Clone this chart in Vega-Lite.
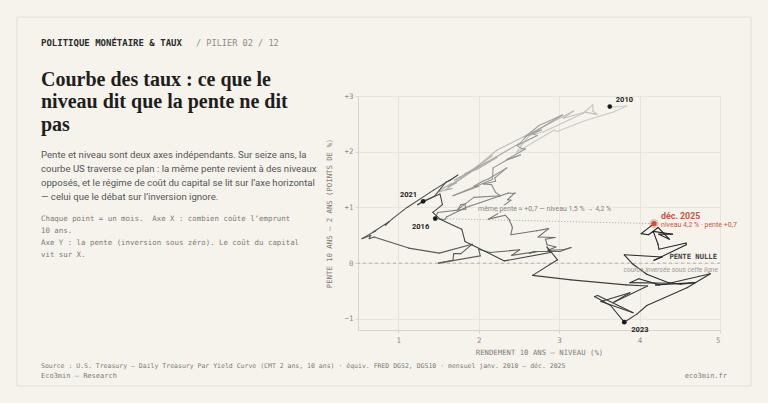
{
  "$schema": "https://vega.github.io/schema/vega-lite/v6.json",
  "width": 362,
  "height": 234,
  "autosize": {"type": "none"},
  "padding": {"left": 358, "top": 96, "right": 48, "bottom": 73},
  "background": "#f6f3ed",
  "config": {
    "view": {"stroke": null},
    "axis": {
      "labelFont": "DejaVu Sans Mono", "labelFontSize": 7.5, "labelColor": "#8f8b84",
      "titleFont": "DejaVu Sans Mono", "titleFontSize": 7.3, "titleFontWeight": "normal", "titleColor": "#7d7a73",
      "gridColor": "#e9e4db", "gridWidth": 1, "domainColor": "#d9d4ca", "tickColor": "#d9d4ca", "tickSize": 3
    }
  },
  "title": {
    "text": ["Courbe des taux : ce que le", "niveau dit que la pente ne dit", "pas"],
    "subtitle": [
      "Pente et niveau sont deux axes indépendants. Sur seize ans, la",
      "courbe US traverse ce plan : la même pente revient à des niveaux",
      "opposés, et le régime de coût du capital se lit sur l’axe horizontal",
      "— celui que le débat sur l’inversion ignore."
    ],
    "anchor": "start", "frame": "group", "orient": "top",
    "dx": -317, "dy": 189,
    "font": "Liberation Serif", "fontSize": 20, "fontWeight": "bold", "color": "#1e1e1e", "lineHeight": 22.5,
    "subtitleFont": "Roboto", "subtitleFontSize": 9.6, "subtitleColor": "#555555", "subtitleLineHeight": 14, "subtitlePadding": 15
  },
  "datasets": {
    "curve": [
      {"m":"2010-01","x":3.63,"y":2.81},{"m":"2010-02","x":3.61,"y":2.80},{"m":"2010-03","x":3.84,"y":2.82},{"m":"2010-04","x":3.69,"y":2.72},
      {"m":"2010-05","x":3.31,"y":2.55},{"m":"2010-06","x":2.97,"y":2.36},{"m":"2010-07","x":2.94,"y":2.39},{"m":"2010-08","x":2.47,"y":1.99},
      {"m":"2010-09","x":2.53,"y":2.11},{"m":"2010-10","x":2.63,"y":2.29},{"m":"2010-11","x":2.81,"y":2.36},{"m":"2010-12","x":3.30,"y":2.69},
      {"m":"2011-01","x":3.42,"y":2.84},{"m":"2011-02","x":3.42,"y":2.73},{"m":"2011-03","x":3.47,"y":2.67},{"m":"2011-04","x":3.32,"y":2.71},
      {"m":"2011-05","x":3.05,"y":2.60},{"m":"2011-06","x":3.18,"y":2.73},{"m":"2011-07","x":2.82,"y":2.46},{"m":"2011-08","x":2.23,"y":2.03},
      {"m":"2011-09","x":1.92,"y":1.67},{"m":"2011-10","x":2.17,"y":1.93},{"m":"2011-11","x":2.08,"y":1.83},{"m":"2011-12","x":1.89,"y":1.65},
      {"m":"2012-01","x":1.83,"y":1.61},{"m":"2012-02","x":1.98,"y":1.68},{"m":"2012-03","x":2.23,"y":1.90},{"m":"2012-04","x":1.95,"y":1.68},
      {"m":"2012-05","x":1.59,"y":1.32},{"m":"2012-06","x":1.67,"y":1.34},{"m":"2012-07","x":1.51,"y":1.28},{"m":"2012-08","x":1.57,"y":1.35},
      {"m":"2012-09","x":1.65,"y":1.42},{"m":"2012-10","x":1.72,"y":1.44},{"m":"2012-11","x":1.62,"y":1.37},{"m":"2012-12","x":1.78,"y":1.53},
      {"m":"2013-01","x":2.02,"y":1.75},{"m":"2013-02","x":1.89,"y":1.64},{"m":"2013-03","x":1.87,"y":1.62},{"m":"2013-04","x":1.70,"y":1.49},
      {"m":"2013-05","x":2.16,"y":1.86},{"m":"2013-06","x":2.52,"y":2.16},{"m":"2013-07","x":2.60,"y":2.29},{"m":"2013-08","x":2.78,"y":2.39},
      {"m":"2013-09","x":2.64,"y":2.31},{"m":"2013-10","x":2.57,"y":2.26},{"m":"2013-11","x":2.75,"y":2.47},{"m":"2013-12","x":3.04,"y":2.66},
      {"m":"2014-01","x":2.67,"y":2.33},{"m":"2014-02","x":2.66,"y":2.33},{"m":"2014-03","x":2.73,"y":2.29},{"m":"2014-04","x":2.67,"y":2.25},
      {"m":"2014-05","x":2.48,"y":2.11},{"m":"2014-06","x":2.53,"y":2.06},{"m":"2014-07","x":2.58,"y":2.05},{"m":"2014-08","x":2.35,"y":1.86},
      {"m":"2014-09","x":2.52,"y":1.94},{"m":"2014-10","x":2.35,"y":1.85},{"m":"2014-11","x":2.18,"y":1.71},{"m":"2014-12","x":2.17,"y":1.50},
      {"m":"2015-01","x":1.68,"y":1.21},{"m":"2015-02","x":2.00,"y":1.38},{"m":"2015-03","x":1.94,"y":1.38},{"m":"2015-04","x":2.05,"y":1.47},
      {"m":"2015-05","x":2.12,"y":1.51},{"m":"2015-06","x":2.35,"y":1.71},{"m":"2015-07","x":2.20,"y":1.53},{"m":"2015-08","x":2.21,"y":1.47},
      {"m":"2015-09","x":2.06,"y":1.42},{"m":"2015-10","x":2.16,"y":1.41},{"m":"2015-11","x":2.21,"y":1.27},{"m":"2015-12","x":2.27,"y":1.21},
      {"m":"2016-01","x":1.94,"y":1.18},{"m":"2016-02","x":1.74,"y":0.96},{"m":"2016-03","x":1.78,"y":1.05},{"m":"2016-04","x":1.83,"y":1.06},
      {"m":"2016-05","x":1.84,"y":0.97},{"m":"2016-06","x":1.49,"y":0.91},{"m":"2016-07","x":1.46,"y":0.80},{"m":"2016-08","x":1.58,"y":0.78},
      {"m":"2016-09","x":1.60,"y":0.83},{"m":"2016-10","x":1.84,"y":1.00},{"m":"2016-11","x":2.37,"y":1.26},{"m":"2016-12","x":2.45,"y":1.25},
      {"m":"2017-01","x":2.45,"y":1.26},{"m":"2017-02","x":2.36,"y":1.14},{"m":"2017-03","x":2.40,"y":1.13},{"m":"2017-04","x":2.29,"y":1.01},
      {"m":"2017-05","x":2.21,"y":0.93},{"m":"2017-06","x":2.31,"y":0.93},{"m":"2017-07","x":2.30,"y":0.94},{"m":"2017-08","x":2.12,"y":0.79},
      {"m":"2017-09","x":2.33,"y":0.86},{"m":"2017-10","x":2.38,"y":0.78},{"m":"2017-11","x":2.42,"y":0.64},{"m":"2017-12","x":2.40,"y":0.51},
      {"m":"2018-01","x":2.72,"y":0.58},{"m":"2018-02","x":2.87,"y":0.62},{"m":"2018-03","x":2.74,"y":0.47},{"m":"2018-04","x":2.95,"y":0.46},
      {"m":"2018-05","x":2.83,"y":0.43},{"m":"2018-06","x":2.85,"y":0.33},{"m":"2018-07","x":2.96,"y":0.29},{"m":"2018-08","x":2.86,"y":0.23},
      {"m":"2018-09","x":3.05,"y":0.24},{"m":"2018-10","x":3.15,"y":0.28},{"m":"2018-11","x":3.01,"y":0.21},{"m":"2018-12","x":2.69,"y":0.21},
      {"m":"2019-01","x":2.63,"y":0.18},{"m":"2019-02","x":2.73,"y":0.21},{"m":"2019-03","x":2.41,"y":0.14},{"m":"2019-04","x":2.51,"y":0.24},
      {"m":"2019-05","x":2.14,"y":0.19},{"m":"2019-06","x":2.00,"y":0.25},{"m":"2019-07","x":2.02,"y":0.13},{"m":"2019-08","x":1.50,"y":0.00},
      {"m":"2019-09","x":1.68,"y":0.05},{"m":"2019-10","x":1.69,"y":0.17},{"m":"2019-11","x":1.78,"y":0.17},{"m":"2019-12","x":1.92,"y":0.34},
      {"m":"2020-01","x":1.51,"y":0.18},{"m":"2020-02","x":1.13,"y":0.27},{"m":"2020-03","x":0.70,"y":0.47},{"m":"2020-04","x":0.64,"y":0.44},
      {"m":"2020-05","x":0.65,"y":0.49},{"m":"2020-06","x":0.66,"y":0.50},{"m":"2020-07","x":0.55,"y":0.44},{"m":"2020-08","x":0.72,"y":0.58},
      {"m":"2020-09","x":0.69,"y":0.56},{"m":"2020-10","x":0.88,"y":0.74},{"m":"2020-11","x":0.84,"y":0.68},{"m":"2020-12","x":0.93,"y":0.80},
      {"m":"2021-01","x":1.11,"y":1.00},{"m":"2021-02","x":1.44,"y":1.31},{"m":"2021-03","x":1.74,"y":1.58},{"m":"2021-04","x":1.65,"y":1.49},
      {"m":"2021-05","x":1.59,"y":1.45},{"m":"2021-06","x":1.45,"y":1.20},{"m":"2021-07","x":1.24,"y":1.05},{"m":"2021-08","x":1.31,"y":1.11},
      {"m":"2021-09","x":1.52,"y":1.24},{"m":"2021-10","x":1.55,"y":1.05},{"m":"2021-11","x":1.43,"y":0.91},{"m":"2021-12","x":1.52,"y":0.79},
      {"m":"2022-01","x":1.79,"y":0.61},{"m":"2022-02","x":1.83,"y":0.39},{"m":"2022-03","x":2.32,"y":0.04},{"m":"2022-04","x":2.89,"y":0.19},
      {"m":"2022-05","x":2.85,"y":0.29},{"m":"2022-06","x":2.98,"y":0.06},{"m":"2022-07","x":2.67,"y":-0.22},{"m":"2022-08","x":3.15,"y":-0.30},
      {"m":"2022-09","x":3.83,"y":-0.39},{"m":"2022-10","x":4.10,"y":-0.41},{"m":"2022-11","x":3.68,"y":-0.70},{"m":"2022-12","x":3.88,"y":-0.53},
      {"m":"2023-01","x":3.52,"y":-0.69},{"m":"2023-02","x":3.92,"y":-0.89},{"m":"2023-03","x":3.48,"y":-0.58},{"m":"2023-04","x":3.44,"y":-0.60},
      {"m":"2023-05","x":3.64,"y":-0.76},{"m":"2023-06","x":3.81,"y":-1.06},{"m":"2023-07","x":3.97,"y":-0.91},{"m":"2023-08","x":4.09,"y":-0.76},
      {"m":"2023-09","x":4.59,"y":-0.44},{"m":"2023-10","x":4.88,"y":-0.19},{"m":"2023-11","x":4.37,"y":-0.36},{"m":"2023-12","x":3.88,"y":-0.35},
      {"m":"2024-01","x":3.99,"y":-0.28},{"m":"2024-02","x":4.25,"y":-0.39},{"m":"2024-03","x":4.20,"y":-0.39},{"m":"2024-04","x":4.69,"y":-0.35},
      {"m":"2024-05","x":4.51,"y":-0.38},{"m":"2024-06","x":4.36,"y":-0.35},{"m":"2024-07","x":4.09,"y":-0.20},{"m":"2024-08","x":3.91,"y":-0.01},
      {"m":"2024-09","x":3.81,"y":0.15},{"m":"2024-10","x":4.28,"y":0.11},{"m":"2024-11","x":4.18,"y":0.05},{"m":"2024-12","x":4.58,"y":0.33},
      {"m":"2025-01","x":4.58,"y":0.36},{"m":"2025-02","x":4.24,"y":0.25},{"m":"2025-03","x":4.23,"y":0.34},{"m":"2025-04","x":4.17,"y":0.57},
      {"m":"2025-05","x":4.41,"y":0.52},{"m":"2025-06","x":4.24,"y":0.52},{"m":"2025-07","x":4.37,"y":0.43},{"m":"2025-08","x":4.23,"y":0.64},
      {"m":"2025-09","x":4.16,"y":0.56},{"m":"2025-10","x":4.11,"y":0.51},{"m":"2025-11","x":4.02,"y":0.53},{"m":"2025-12","x":4.18,"y":0.71}
    ]
  },
  "layer": [
    {
      "data": {"values": [{}]},
      "mark": {"type": "rect", "fill": "transparent", "stroke": "#e3ded5", "strokeWidth": 1, "clip": false},
      "encoding": {"x": {"datum": -3.739}, "x2": {"datum": 5.385}, "y": {"datum": 4.418}, "y2": {"datum": -2.205}}
    },
    {
      "data": {"values": [{}]},
      "mark": {"type": "rule", "strokeDash": [3, 3], "color": "#a39e95", "strokeWidth": 0.8},
      "encoding": {"y": {"datum": 0}}
    },
    {
      "data": {"name": "curve"},
      "transform": [{"filter": {"field": "m", "oneOf": ["2016-07", "2025-12"]}}],
      "mark": {"type": "line", "strokeDash": [1, 2], "color": "#aaa59c", "strokeWidth": 1},
      "encoding": {"x": {"field": "x", "type": "quantitative"}, "y": {"field": "y", "type": "quantitative"}, "order": {"field": "m"}}
    },
    {
      "data": {"name": "curve"},
      "transform": [
        {"window": [{"op": "lead", "field": "x", "as": "xn"}, {"op": "lead", "field": "y", "as": "yn"}], "sort": [{"field": "m", "order": "ascending"}]},
        {"filter": "datum.xn != null"}
      ],
      "mark": {"type": "rule", "strokeWidth": 1.1, "strokeCap": "round"},
      "encoding": {
        "x": {"field": "x", "type": "quantitative", "scale": {"domain": [0.5, 5], "nice": false, "zero": false},
          "axis": {"values": [1, 2, 3, 4, 5], "format": "d", "title": "RENDEMENT 10 ANS — NIVEAU (%)", "grid": true, "labelPadding": 3, "titlePadding": 5}},
        "y": {"field": "y", "type": "quantitative", "scale": {"domain": [-1.2, 3], "nice": false, "zero": false},
          "axis": {"values": [-1, 0, 1, 2, 3], "format": "d", "title": "PENTE 10 ANS – 2 ANS (POINTS DE %)", "grid": true, "labelPadding": 2, "titlePadding": 10,
            "labelExpr": "datum.value > 0 ? '+' + datum.label : datum.label"}},
        "x2": {"field": "xn"},
        "y2": {"field": "yn"},
        "color": {"field": "m", "type": "temporal", "legend": null,
          "scale": {"range": ["#d0cec9", "#1f1f1f"], "interpolate": {"type": "rgb", "gamma": 0.85}}}
      }
    },
    {
      "data": {"name": "curve"},
      "transform": [{"filter": {"field": "m", "oneOf": ["2010-01", "2016-07", "2021-08", "2023-06"]}}],
      "mark": {"type": "point", "filled": true, "size": 22, "color": "#1a1a1a", "opacity": 1},
      "encoding": {"x": {"field": "x", "type": "quantitative"}, "y": {"field": "y", "type": "quantitative"}}
    },
    {
      "data": {"name": "curve"},
      "transform": [{"filter": {"field": "m", "equal": "2010-01"}}],
      "mark": {"type": "text", "font": "Roboto", "fontWeight": "bold", "fontSize": 7.5, "color": "#222222", "align": "left", "baseline": "middle", "dx": 6, "dy": -7},
      "encoding": {"x": {"field": "x", "type": "quantitative"}, "y": {"field": "y", "type": "quantitative"}, "text": {"value": "2010"}}
    },
    {
      "data": {"name": "curve"},
      "transform": [{"filter": {"field": "m", "equal": "2021-08"}}],
      "mark": {"type": "text", "font": "Roboto", "fontWeight": "bold", "fontSize": 7.5, "color": "#222222", "align": "right", "baseline": "middle", "dx": -6, "dy": -6},
      "encoding": {"x": {"field": "x", "type": "quantitative"}, "y": {"field": "y", "type": "quantitative"}, "text": {"value": "2021"}}
    },
    {
      "data": {"name": "curve"},
      "transform": [{"filter": {"field": "m", "equal": "2016-07"}}],
      "mark": {"type": "text", "font": "Roboto", "fontWeight": "bold", "fontSize": 7.5, "color": "#222222", "align": "right", "baseline": "middle", "dx": -6, "dy": 8},
      "encoding": {"x": {"field": "x", "type": "quantitative"}, "y": {"field": "y", "type": "quantitative"}, "text": {"value": "2016"}}
    },
    {
      "data": {"name": "curve"},
      "transform": [{"filter": {"field": "m", "equal": "2023-06"}}],
      "mark": {"type": "text", "font": "Roboto", "fontWeight": "bold", "fontSize": 7.5, "color": "#222222", "align": "left", "baseline": "middle", "dx": 7, "dy": 8},
      "encoding": {"x": {"field": "x", "type": "quantitative"}, "y": {"field": "y", "type": "quantitative"}, "text": {"value": "2023"}}
    },
    {
      "data": {"name": "curve"},
      "transform": [{"filter": {"field": "m", "equal": "2025-12"}}],
      "mark": {"type": "point", "filled": true, "size": 85, "color": "#c8553d", "opacity": 0.3},
      "encoding": {"x": {"field": "x", "type": "quantitative"}, "y": {"field": "y", "type": "quantitative"}}
    },
    {
      "data": {"name": "curve"},
      "transform": [{"filter": {"field": "m", "equal": "2025-12"}}],
      "mark": {"type": "point", "filled": true, "size": 28, "color": "#c8553d", "opacity": 1},
      "encoding": {"x": {"field": "x", "type": "quantitative"}, "y": {"field": "y", "type": "quantitative"}}
    },
    {
      "data": {"name": "curve"},
      "transform": [{"filter": {"field": "m", "equal": "2025-12"}}],
      "mark": {"type": "text", "font": "Roboto", "fontWeight": "bold", "fontSize": 8.8, "color": "#c8553d", "align": "left", "baseline": "middle", "dx": 7, "dy": -8},
      "encoding": {"x": {"field": "x", "type": "quantitative"}, "y": {"field": "y", "type": "quantitative"}, "text": {"value": "déc. 2025"}}
    },
    {
      "data": {"name": "curve"},
      "transform": [{"filter": {"field": "m", "equal": "2025-12"}}],
      "mark": {"type": "text", "font": "Roboto", "fontSize": 7, "color": "#c8553d", "align": "left", "baseline": "middle", "dx": 7, "dy": 1.5},
      "encoding": {"x": {"field": "x", "type": "quantitative"}, "y": {"field": "y", "type": "quantitative"}, "text": {"value": "niveau 4,2 % · pente +0,7"}}
    },
    {
      "data": {"name": "curve"},
      "transform": [
        {"filter": {"field": "m", "oneOf": ["2016-07", "2025-12"]}},
        {"aggregate": [{"op": "mean", "field": "x", "as": "x"}, {"op": "mean", "field": "y", "as": "y"}]}
      ],
      "mark": {"type": "text", "font": "Roboto", "fontSize": 7, "color": "#f6f3ed", "stroke": "#f6f3ed", "strokeWidth": 4, "strokeOpacity": 0.85, "align": "center", "baseline": "middle", "dy": -12},
      "encoding": {"x": {"field": "x", "type": "quantitative"}, "y": {"field": "y", "type": "quantitative"}, "text": {"value": "même pente ≈ +0,7 — niveau 1,5 % → 4,2 %"}}
    },
    {
      "data": {"name": "curve"},
      "transform": [
        {"filter": {"field": "m", "oneOf": ["2016-07", "2025-12"]}},
        {"aggregate": [{"op": "mean", "field": "x", "as": "x"}, {"op": "mean", "field": "y", "as": "y"}]}
      ],
      "mark": {"type": "text", "font": "Roboto", "fontSize": 7, "color": "#85827b", "align": "center", "baseline": "middle", "dy": -12},
      "encoding": {"x": {"field": "x", "type": "quantitative"}, "y": {"field": "y", "type": "quantitative"}, "text": {"value": "même pente ≈ +0,7 — niveau 1,5 % → 4,2 %"}}
    },
    {
      "data": {"values": [{"t": "PENTE NULLE"}]},
      "mark": {"type": "text", "font": "DejaVu Sans Mono", "fontWeight": "bold", "fontSize": 7.2, "color": "#444444", "align": "right", "baseline": "middle", "dx": -3, "dy": -6},
      "encoding": {"x": {"datum": 5}, "y": {"datum": 0}, "text": {"field": "t"}}
    },
    {
      "data": {"values": [{"t": "courbe inversée sous cette ligne"}]},
      "mark": {"type": "text", "font": "Roboto", "fontStyle": "italic", "fontSize": 6.8, "color": "#9c9890", "align": "right", "baseline": "middle", "dx": -2, "dy": 7},
      "encoding": {"x": {"datum": 5}, "y": {"datum": 0}, "text": {"field": "t"}}
    },
    {
      "data": {"values": [{"t": "POLITIQUE MONÉTAIRE & TAUX"}]},
      "mark": {"type": "text", "font": "DejaVu Sans Mono", "fontWeight": "bold", "fontSize": 9, "color": "#2b2b2b", "align": "left", "baseline": "alphabetic"},
      "encoding": {"x": {"datum": -3.4406}, "y": {"datum": 3.8885}, "text": {"field": "t"}}
    },
    {
      "data": {"values": [{"t": "/ PILIER 02 / 12"}]},
      "mark": {"type": "text", "font": "DejaVu Sans Mono", "fontSize": 8.6, "color": "#8f8b84", "align": "left", "baseline": "alphabetic"},
      "encoding": {"x": {"datum": -1.5138}, "y": {"datum": 3.8885}, "text": {"field": "t"}}
    },
    {
      "data": {"values": [{"t": ["Chaque point = un mois.\u00a0 Axe X : combien coûte l’emprunt", "10 ans.", "Axe Y : la pente (inversion sous zéro). Le coût du capital", "vit sur X."]}]},
      "mark": {"type": "text", "font": "DejaVu Sans Mono", "fontSize": 7.4, "color": "#7d7a73", "align": "left", "baseline": "alphabetic", "lineHeight": 12.2},
      "encoding": {"x": {"datum": -3.4406}, "y": {"datum": 0.7618}, "text": {"field": "t"}}
    },
    {
      "data": {"values": [{"t": "Source : U.S. Treasury — Daily Treasury Par Yield Curve (CMT 2 ans, 10 ans) · équiv. FRED DGS2, DGS10 · mensuel janv. 2010 – déc. 2025"}]},
      "mark": {"type": "text", "font": "DejaVu Sans Mono", "fontSize": 6.5, "color": "#7d7a73", "align": "left", "baseline": "alphabetic"},
      "encoding": {"x": {"datum": -3.4406}, "y": {"datum": -1.8731}, "text": {"field": "t"}}
    },
    {
      "data": {"values": [{"t": "Eco3min — Research"}]},
      "mark": {"type": "text", "font": "DejaVu Sans Mono", "fontSize": 7, "color": "#7d7a73", "align": "left", "baseline": "alphabetic"},
      "encoding": {"x": {"datum": -3.4406}, "y": {"datum": -2.0705}, "text": {"field": "t"}}
    },
    {
      "data": {"values": [{"t": "eco3min.fr"}]},
      "mark": {"type": "text", "font": "DejaVu Sans Mono", "fontSize": 7, "color": "#7d7a73", "align": "right", "baseline": "alphabetic"},
      "encoding": {"x": {"datum": 5.0871}, "y": {"datum": -2.0705}, "text": {"field": "t"}}
    }
  ]
}
